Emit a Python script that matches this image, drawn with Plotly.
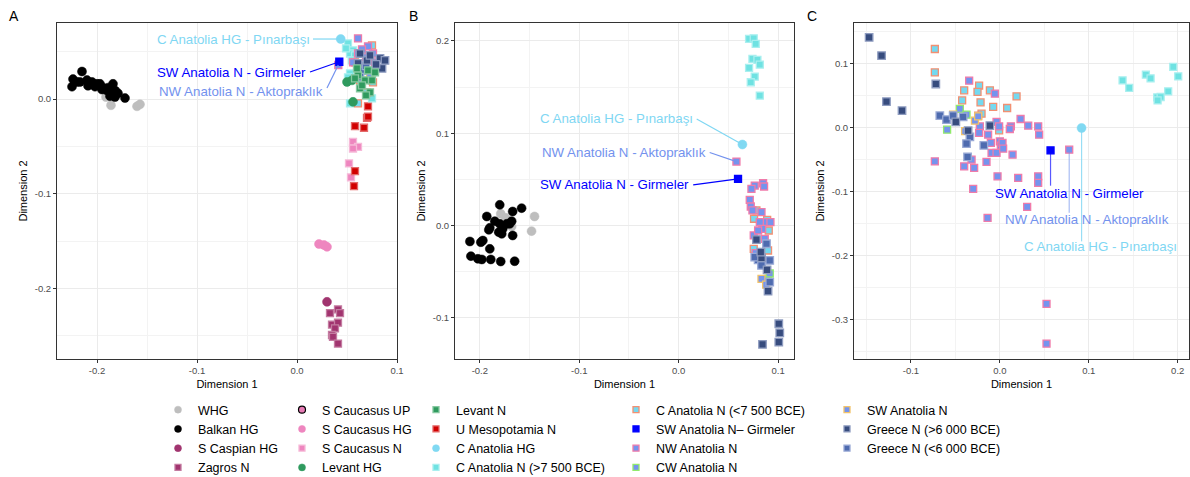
import plotly.graph_objects as go

# ---------------- data ----------------
# Panel A
WHG_A = [(-0.180, 0.0074), (-0.191, 0.0020), (-0.186, -0.0066), (-0.160, -0.0077), (-0.157, -0.0056)]
BALKAN_A = [(-0.215, 0.029), (-0.224, 0.021), (-0.225, 0.013), (-0.217, 0.018), (-0.209, 0.014),
            (-0.205, 0.018), (-0.202, 0.013), (-0.197, 0.016), (-0.194, 0.012), (-0.189, 0.012),
            (-0.184, 0.016), (-0.182, 0.009), (-0.179, 0.006), (-0.182, 0.002), (-0.172, 0.001),
            (-0.185, 0.006), (-0.190, 0.009), (-0.210, 0.020), (-0.220, 0.018), (-0.200, 0.016),
            (-0.195, 0.010), (-0.187, 0.003)]
S_CASPIAN_HG_A = [(0.030, -0.214)]
ZAGROS_A = [(0.033, -0.226), (0.041, -0.222), (0.043, -0.226), (0.035, -0.238), (0.041, -0.236),
            (0.038, -0.242), (0.035, -0.249), (0.036, -0.251), (0.041, -0.258)]
S_CAUC_HG_A = [(0.022, -0.153), (0.030, -0.156), (0.027, -0.154)]
S_CAUC_N_A = [(0.056, -0.0453), (0.061, -0.0505), (0.056, -0.0522), (0.052, -0.068), (0.054, -0.0827)]
LEVANT_HG_A = [(0.050, 0.018), (0.055, 0.0197), (0.056, -0.003)]
LEVANT_N_A = [(0.061, 0.025), (0.063, 0.0113), (0.073, 0.0071), (0.071, 0.0302), (0.068, 0.0197),
              (0.058, 0.0218), (0.065, 0.0144), (0.075, 0.0197), (0.078, 0.0281), (0.069, 0.0039),
              (0.060, 0.0323)]
U_MESO_A = [(0.071, -0.0077), (0.070, -0.0200), (0.071, -0.0185), (0.058, -0.0285), (0.067, -0.0303),
            (0.058, -0.076), (0.057, -0.092)]
C_ANAT_N_OLD_A = [(0.051, 0.0586), (0.056, 0.0513), (0.053, 0.048), (0.058, 0.046), (0.053, 0.027),
                  (0.051, 0.0228), (0.075, 0.0007), (0.053, -0.0046), (0.055, 0.0407), (0.049, 0.0534)]
C_ANAT_N_YOUNG_A = [(0.063, 0.0197), (0.070, 0.0071), (0.061, -0.0045), (0.076, 0.0176), (0.058, 0.0386),
                    (0.075, 0.0565)]
NW_ANAT_A = [(0.061, 0.0639), (0.071, 0.0555), (0.061, 0.048), (0.056, 0.0386), (0.065, 0.0523),
             (0.078, 0.0386), (0.076, 0.048), (0.069, 0.0439)]
CW_ANAT_A = [(0.078, 0.030)]
SW_ANAT_A = [(0.073, 0.023)]
GREECE_OLD_A = [(0.061, 0.0376), (0.070, 0.0407), (0.083, 0.0428), (0.085, 0.0323), (0.063, 0.048),
                (0.073, 0.046), (0.079, 0.0365), (0.088, 0.0407)]
GREECE_YOUNG_A = [(0.066, 0.030), (0.063, 0.023), (0.069, 0.035)]
PINARBASI_A = [(0.0437, 0.0633)]
GIRMELER_A = [(0.0423, 0.0393)]
AKTOPRAKLIK_A = [(0.0413, 0.0359)]

# Panel B
WHG_B = [(-0.179, 0.0127), (-0.174, 0.0083), (-0.168, -0.0011), (-0.145, 0.0098), (-0.148, -0.0061)]
BALKAN_B = [(-0.180, 0.0224), (-0.158, 0.0188), (-0.167, 0.0152), (-0.193, 0.0098), (-0.185, 0.0047),
            (-0.168, 0.0047), (-0.180, 0.0018), (-0.190, -0.0025), (-0.173, 0.0018), (-0.191, -0.0047),
            (-0.181, -0.0072), (-0.178, -0.0090), (-0.167, -0.0108), (-0.210, -0.0173), (-0.197, -0.0163),
            (-0.199, -0.0181), (-0.190, -0.0253), (-0.209, -0.0332), (-0.202, -0.0361), (-0.198, -0.0368),
            (-0.189, -0.0368), (-0.179, -0.0390), (-0.165, -0.0387), (-0.170, 0.0018), (-0.177, -0.0036)]
C_ANAT_N_OLD_B = [(0.0708, 0.2023), (0.0755, 0.2029), (0.0775, 0.1969), (0.0742, 0.1806), (0.0792, 0.1795),
                  (0.0816, 0.1744), (0.0708, 0.1708), (0.0765, 0.1614), (0.0725, 0.1553), (0.0816, 0.1408)]
C_ANAT_N_YOUNG_B = [(0.0782, 0.0163), (0.0758, 0.0073), (0.0906, -0.0054), (0.0755, -0.0253),
                    (0.0899, -0.0271), (0.0809, -0.0350), (0.0890, 0.0060)]
NW_ANAT_B = [(0.0765, 0.0433), (0.0849, 0.0458), (0.0859, 0.0423), (0.0732, 0.0398), (0.0715, 0.0278),
             (0.0725, 0.0206), (0.0742, 0.0163), (0.0833, 0.0144), (0.0866, 0.0036), (0.0923, 0.0036),
             (0.0816, 0.0036), (0.0839, -0.0036), (0.0755, -0.0108), (0.0799, -0.0054), (0.0775, -0.0300),
             (0.0866, -0.0144)]
CW_ANAT_B = [(0.0899, -0.0578), (0.0916, -0.0520)]
SW_ANAT_B = [(0.0833, -0.0578), (0.0880, -0.0640)]
GREECE_YOUNG_B = [(0.0883, -0.0198), (0.0799, -0.0372), (0.0916, -0.0379), (0.0833, -0.0433),
                  (0.0916, -0.0614), (0.0765, -0.0343)]
GREECE_OLD_B = [(0.0782, -0.0152), (0.0833, -0.0350), (0.0889, -0.0480), (0.0899, -0.0712),
                (0.1007, -0.1065), (0.1017, -0.1163), (0.1007, -0.1264), (0.0843, -0.1289), (0.0826, -0.0289)]
PINARBASI_B = [(0.0641, 0.0878)]
GIRMELER_B = [(0.0597, 0.0506)]
AKTOPRAKLIK_B = [(0.0581, 0.0693)]

# Panel C
C_ANAT_N_OLD_C = [(0.138, 0.0744), (0.1455, 0.0625), (0.1642, 0.0833), (0.1695, 0.0775), (0.195, 0.0953),
                  (0.2006, 0.0806), (0.1893, 0.0572), (0.177, 0.0478), (0.1808, 0.0484), (0.1774, 0.0431)]
C_ANAT_N_YOUNG_C = [(-0.0731, 0.1234), (-0.0731, 0.0869), (-0.0401, 0.0588), (-0.0233, 0.0661),
                    (-0.0251, 0.0563), (-0.0112, 0.0588), (-0.0424, 0.0431), (-0.0217, 0.0400),
                    (-0.0075, 0.0328), (0.0082, 0.0312), (0.0188, 0.0494), (-0.0206, 0.0223),
                    (-0.0244, 0.0192), (-0.0008, -0.0037)]
NW_ANAT_C = [(-0.0345, 0.0739), (-0.0056, 0.0536), (-0.0731, -0.0522), (-0.0401, -0.0600), (-0.0289, -0.0625),
             (-0.0318, -0.0495), (-0.0225, 0.0025), (-0.0233, -0.0078), (-0.0132, -0.0105), (-0.0101, -0.0234),
             (-0.0037, 0.0094), (-0.0008, 0.0025), (0.0000, -0.0209), (0.0011, -0.0277), (0.0030, -0.0234),
             (-0.0093, -0.0390), (-0.0037, -0.0390), (0.0037, -0.0323), (0.0143, -0.0417), (0.0124, 0.0025),
             (0.0233, 0.0140), (0.0319, 0.0036), (0.0431, 0.0025), (0.0442, -0.0105), (-0.0150, -0.0531),
             (-0.0026, -0.0756), (0.0206, -0.0781), (0.0431, -0.0756), (0.0431, -0.0859), (-0.0300, -0.0953),
             (0.0112, -0.0016), (0.0307, -0.1234), (-0.0138, -0.1406), (0.0525, -0.2750), (0.0525, -0.3370)]
CW_ANAT_C = [(-0.0450, 0.0297), (-0.0375, 0.0208), (-0.0593, -0.0027)]
SW_ANAT_C = [(-0.0525, 0.0208), (-0.0280, 0.0114), (-0.0390, -0.0050), (-0.0244, 0.0181)]
GREECE_YOUNG_C = [(-0.0675, 0.0192), (-0.0600, 0.0130), (-0.0525, 0.0192), (-0.0413, 0.0172),
                  (-0.0337, -0.0140), (-0.0375, -0.0245), (-0.0180, -0.0272), (-0.0363, -0.0453)]
GREECE_OLD_C = [(-0.1470, 0.1416), (-0.1330, 0.1130), (-0.1275, 0.0411), (-0.1100, 0.0270),
                (-0.0720, 0.0687), (-0.0495, 0.0094), (-0.0357, -0.0042), (-0.0112, 0.0036)]
PINARBASI_C = [(0.0919, 0.0)]
GIRMELER_C = [(0.057, -0.035)]
AKTOPRAKLIK_C = [(0.078, -0.034)]

# axis ticks
TICKS_A_X = [-0.2, -0.1, 0.0, 0.1]
TICKS_A_Y = [-0.2, -0.1, 0.0]
TICKS_B_X = [-0.2, -0.1, 0.0, 0.1]
TICKS_B_Y = [-0.1, 0.0, 0.1, 0.2]
TICKS_C_X = [-0.1, 0.0, 0.1, 0.2]
TICKS_C_Y = [-0.3, -0.2, -0.1, 0.0, 0.1]

LABEL_PIN = "C Anatolia HG - Pınarbaşı"
LABEL_GIRM = "SW Anatolia N - Girmeler"
LABEL_AKTO = "NW Anatolia N - Aktopraklık"

# ---------------- styles ----------------
STYLES = {
    "WHG": ("circle", "#BEBEBE", "#BEBEBE"),
    "Balkan HG": ("circle", "#000000", "#000000"),
    "S Caspian HG": ("circle", "#A1346F", "#A1346F"),
    "Zagros N": ("square", "#A1346F", "#C47BA0"),
    "S Caucasus UP": ("circle", "#E77BB5", "#000000"),
    "S Caucasus HG": ("circle", "#EE86BF", "#EE86BF"),
    "S Caucasus N": ("square", "#EE86BF", "#F6B9D8"),
    "Levant HG": ("circle", "#2F9A5E", "#2F9A5E"),
    "Levant N": ("square", "#2F9A5E", "#86C8A0"),
    "U Mesopotamia N": ("square", "#D10000", "#E46A6A"),
    "C Anatolia HG": ("circle", "#80D9F2", "#80D9F2"),
    "C Anatolia N (>7 500 BCE)": ("square", "#6FE2E2", "#A9EFEF"),
    "C Anatolia N (<7 500 BCE)": ("square", "#74D9F0", "#F29072"),
    "SW Anatolia N– Girmeler": ("square", "#0000FF", "#0000FF"),
    "NW Anatolia N": ("square", "#7494EE", "#F07BAA"),
    "CW Anatolia N": ("square", "#7494EE", "#92EA6C"),
    "SW Anatolia N": ("square", "#7494EE", "#F2C36B"),
    "Greece N (>6 000 BCE)": ("square", "#374C7E", "#8E9CC0"),
    "Greece N (<6 000 BCE)": ("square", "#4E6BAF", "#9AAAD6"),
}

LEGEND_COLUMNS = [
    ["WHG", "Balkan HG", "S Caspian HG", "Zagros N"],
    ["S Caucasus UP", "S Caucasus HG", "S Caucasus N", "Levant HG"],
    ["Levant N", "U Mesopotamia N", "C Anatolia HG", "C Anatolia N (>7 500 BCE)"],
    ["C Anatolia N (<7 500 BCE)", "SW Anatolia N– Girmeler", "NW Anatolia N", "CW Anatolia N"],
    ["SW Anatolia N", "Greece N (>6 000 BCE)", "Greece N (<6 000 BCE)"],
]

PANEL_A = [
    ("WHG", WHG_A), ("Balkan HG", BALKAN_A), ("S Caspian HG", S_CASPIAN_HG_A), ("Zagros N", ZAGROS_A),
    ("S Caucasus HG", S_CAUC_HG_A), ("S Caucasus N", S_CAUC_N_A), ("U Mesopotamia N", U_MESO_A),
    ("C Anatolia N (>7 500 BCE)", C_ANAT_N_OLD_A), ("C Anatolia N (<7 500 BCE)", C_ANAT_N_YOUNG_A),
    ("NW Anatolia N", NW_ANAT_A), ("CW Anatolia N", CW_ANAT_A), ("SW Anatolia N", SW_ANAT_A),
    ("Greece N (<6 000 BCE)", GREECE_YOUNG_A), ("Greece N (>6 000 BCE)", GREECE_OLD_A),
    ("Levant HG", LEVANT_HG_A), ("Levant N", LEVANT_N_A),
    ("NW Anatolia N", AKTOPRAKLIK_A), ("C Anatolia HG", PINARBASI_A), ("SW Anatolia N– Girmeler", GIRMELER_A),
]
PANEL_B = [
    ("WHG", WHG_B), ("Balkan HG", BALKAN_B),
    ("C Anatolia N (>7 500 BCE)", C_ANAT_N_OLD_B), ("C Anatolia N (<7 500 BCE)", C_ANAT_N_YOUNG_B),
    ("NW Anatolia N", NW_ANAT_B), ("CW Anatolia N", CW_ANAT_B), ("SW Anatolia N", SW_ANAT_B),
    ("Greece N (<6 000 BCE)", GREECE_YOUNG_B), ("Greece N (>6 000 BCE)", GREECE_OLD_B),
    ("NW Anatolia N", AKTOPRAKLIK_B), ("C Anatolia HG", PINARBASI_B), ("SW Anatolia N– Girmeler", GIRMELER_B),
]
PANEL_C = [
    ("C Anatolia N (>7 500 BCE)", C_ANAT_N_OLD_C), ("C Anatolia N (<7 500 BCE)", C_ANAT_N_YOUNG_C),
    ("NW Anatolia N", NW_ANAT_C), ("CW Anatolia N", CW_ANAT_C), ("SW Anatolia N", SW_ANAT_C),
    ("Greece N (<6 000 BCE)", GREECE_YOUNG_C), ("Greece N (>6 000 BCE)", GREECE_OLD_C),
    ("NW Anatolia N", AKTOPRAKLIK_C), ("C Anatolia HG", PINARBASI_C), ("SW Anatolia N– Girmeler", GIRMELER_C),
]

W, H = 1190, 477
FONT = "Liberation Sans, Arial, sans-serif"


def marker_for(name, legend=False):
    sym, fill, line = STYLES[name]
    if sym == "circle":
        size = 7 if legend else 9
        lw = 1.2 if name == "S Caucasus UP" else 0.5
    else:
        size = 6 if legend else 7
        lw = 1.3
    if name.startswith("Greece") and not legend:
        size = 7.5
    return dict(symbol=sym, size=size, color=fill, line=dict(color=line, width=lw))


fig = go.Figure()

for panel, axes in ((PANEL_A, ("x", "y")), (PANEL_B, ("x2", "y2")), (PANEL_C, ("x3", "y3"))):
    for name, pts in panel:
        fig.add_trace(go.Scatter(
            x=[p[0] for p in pts], y=[p[1] for p in pts], mode="markers",
            marker=marker_for(name), name=name, legendgroup=name, showlegend=False,
            xaxis=axes[0], yaxis=axes[1], hoverinfo="x+y+name"))

# legend entries (5 columns, one legend per column)
for k, col in enumerate(LEGEND_COLUMNS):
    lg = "legend" if k == 0 else f"legend{k + 1}"
    for name in col:
        fig.add_trace(go.Scatter(
            x=[None], y=[None], mode="markers", marker=marker_for(name, legend=True),
            name=name, legendgroup=name, showlegend=True, legend=lg, xaxis="x", yaxis="y"))

# ---------------- layout ----------------
px2x = lambda p: p / W
py2y = lambda p: 1 - p / H

DOM_Y = [py2y(359), py2y(23)]
DOMS_X = [[px2x(57), px2x(397)], [px2x(455), px2x(794)], [px2x(854), px2x(1189)]]
RANGES = [([-0.24, 0.10], [-0.2743, 0.0802]),
          ([-0.225, 0.116], [-0.1447, 0.2195]),
          ([-0.164, 0.2127], [-0.361, 0.164])]
TICKS = [(TICKS_A_X, TICKS_A_Y), (TICKS_B_X, TICKS_B_Y), (TICKS_C_X, TICKS_C_Y)]


def fmt(v):
    return f"{v:.1f}".replace("−", "-")


def minors(ticks, rng):
    step = ticks[1] - ticks[0]
    vals = []
    t = ticks[0] - step / 2
    while t < rng[1]:
        if t > rng[0]:
            vals.append(round(t, 4))
        t += step
    return vals


def axis(ticks, rng, dom, title, anchor):
    return dict(
        domain=dom, range=rng, anchor=anchor, autorange=False,
        tickmode="array", tickvals=ticks, ticktext=[fmt(v) for v in ticks],
        showline=True, mirror=True, linecolor="#333333", linewidth=1,
        ticks="outside", ticklen=3, tickwidth=1, tickcolor="#333333",
        tickfont=dict(size=9.5, color="#4D4D4D", family=FONT),
        showgrid=True, gridcolor="#EBEBEB", gridwidth=1, zeroline=False,
        minor=dict(tickmode="array", tickvals=minors(ticks, rng), showgrid=True,
                   gridcolor="#F3F3F3", gridwidth=0.6),
        title=dict(text=title, font=dict(size=11, color="#000000", family=FONT), standoff=4),
        automargin=False, fixedrange=True,
    )


layout = dict(
    width=W, height=H, margin=dict(l=0, r=0, t=0, b=0, autoexpand=False),
    paper_bgcolor="white", plot_bgcolor="white",
    font=dict(family=FONT, color="#000000"),
)
for i in range(3):
    sx = "" if i == 0 else str(i + 1)
    layout[f"xaxis{sx}"] = axis(TICKS[i][0], RANGES[i][0], DOMS_X[i], "Dimension 1", f"y{sx}")
    layout[f"yaxis{sx}"] = axis(TICKS[i][1], RANGES[i][1], DOM_Y, "Dimension 2", f"x{sx}")

LEGEND_TEXT_X = [198, 322, 456, 656, 867]
for k, tx in enumerate(LEGEND_TEXT_X):
    key = "legend" if k == 0 else f"legend{k + 1}"
    layout[key] = dict(x=px2x(tx - 40), y=py2y(395), xanchor="left", yanchor="top",
                       orientation="v", bgcolor="rgba(0,0,0,0)", borderwidth=0,
                       font=dict(size=12.5, color="#000000", family=FONT),
                       tracegroupgap=0, itemclick=False, itemdoubleclick=False)

fig.update_layout(**layout)

# panel letters
for letter, px in (("A", 14), ("B", 413), ("C", 812)):
    fig.add_annotation(text=letter, x=px2x(px), y=py2y(16), xref="paper", yref="paper",
                       showarrow=False, font=dict(size=14, color="#000000", family=FONT),
                       xanchor="center", yanchor="middle")

COL_PIN, COL_GIRM, COL_AKTO = "#7FD7F3", "#0000FF", "#7392EE"

# label texts and connector segments (label anchors are layout positions)
LABELS = [
    # panel axes, text, colour, text anchor (x, y), xanchor, segment start, point, opacity
    ("x", "y", LABEL_PIN, COL_PIN, (0.015, 0.0630), "right", (0.016, 0.0633), PINARBASI_A[0], 1.0),
    ("x", "y", LABEL_GIRM, COL_GIRM, (0.011, 0.0277), "right", (0.013, 0.0285), GIRMELER_A[0], 1.0),
    ("x", "y", LABEL_AKTO, COL_AKTO, (0.028, 0.0077), "right", (0.030, 0.0116), AKTOPRAKLIK_A[0], 1.0),
    ("x2", "y2", LABEL_PIN, COL_PIN, (0.0161, 0.1156), "right", (0.0181, 0.1154), PINARBASI_B[0], 1.0),
    ("x2", "y2", LABEL_AKTO, COL_AKTO, (0.0295, 0.0794), "right", (0.0312, 0.0791), AKTOPRAKLIK_B[0], 1.0),
    ("x2", "y2", LABEL_GIRM, COL_GIRM, (0.0128, 0.0441), "right", (0.0146, 0.0441), GIRMELER_B[0], 1.0),
    ("x3", "y3", LABEL_GIRM, COL_GIRM, (-0.0075, -0.1022), "left", (GIRMELER_C[0][0], -0.0902), GIRMELER_C[0], 0.65),
    ("x3", "y3", LABEL_AKTO, COL_AKTO, (0.0037, -0.1433), "left", (AKTOPRAKLIK_C[0][0], -0.1323), AKTOPRAKLIK_C[0], 0.6),
    ("x3", "y3", LABEL_PIN, COL_PIN, (0.0244, -0.1860), "left", (PINARBASI_C[0][0], -0.1772), PINARBASI_C[0], 0.8),
]
for xr, yr, text, col, (tx, ty), xa, (sx0, sy0), (ptx, pty), op in LABELS:
    fig.add_shape(type="line", xref=xr, yref=yr, x0=sx0, y0=sy0, x1=ptx, y1=pty,
                  line=dict(color=col, width=1.2), opacity=op)
    fig.add_annotation(text=text, x=tx, y=ty, xref=xr, yref=yr, showarrow=False,
                       xanchor=xa, yanchor="middle",
                       font=dict(size=13.3, color=col, family=FONT))

fig.write_html("out.html")
